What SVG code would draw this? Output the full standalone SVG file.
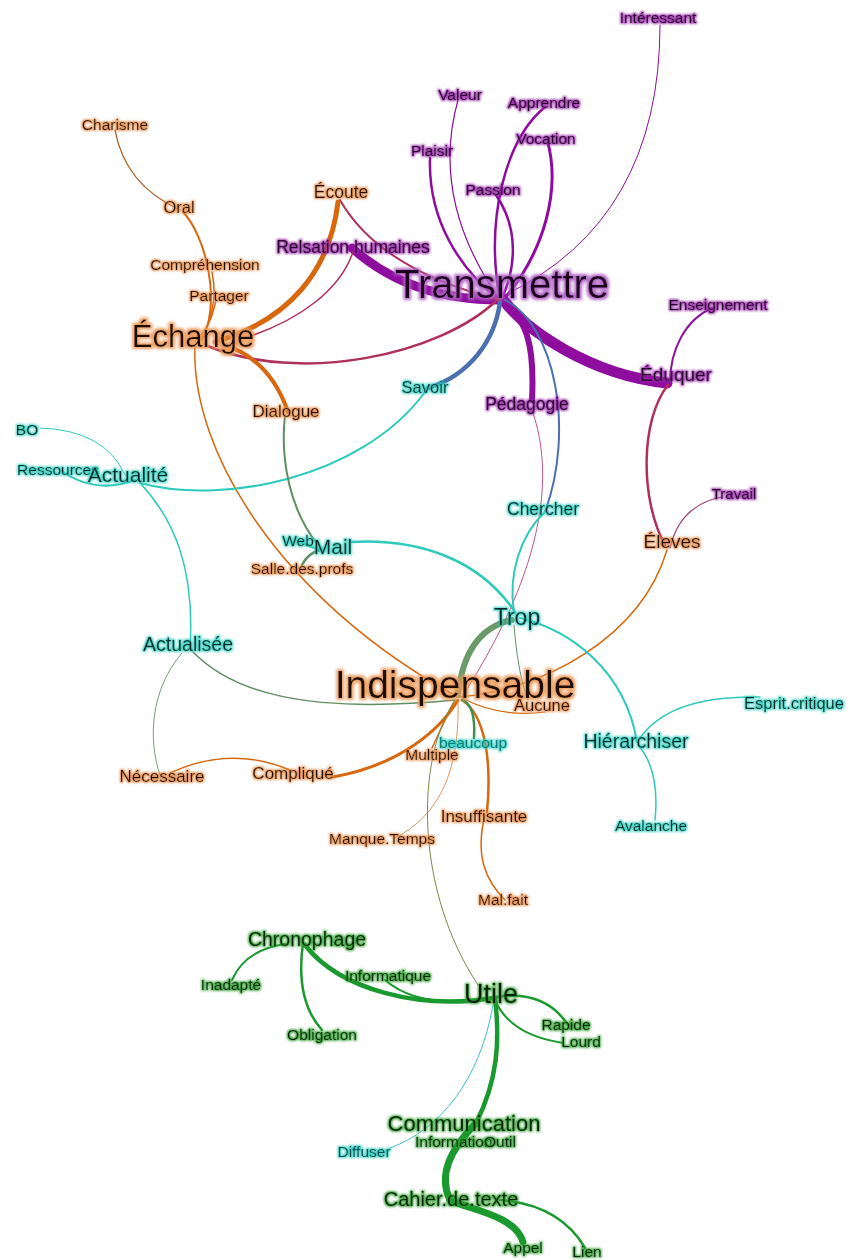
<svg xmlns="http://www.w3.org/2000/svg" width="850" height="1260" viewBox="0 0 850 1260">
<defs>
<filter id="hp" x="-20%" y="-50%" width="140%" height="200%"><feMorphology in="SourceAlpha" operator="dilate" radius="1.4" result="d"/><feGaussianBlur in="d" stdDeviation="1.1" result="b"/><feFlood flood-color="#9424a4" flood-opacity="0.9"/><feComposite in2="b" operator="in" result="h"/><feMerge><feMergeNode in="h"/><feMergeNode in="SourceGraphic"/></feMerge></filter>
<filter id="hpl" x="-20%" y="-50%" width="140%" height="200%"><feMorphology in="SourceAlpha" operator="dilate" radius="2" result="d"/><feGaussianBlur in="d" stdDeviation="1.4" result="b"/><feFlood flood-color="#b060c4" flood-opacity="0.95"/><feComposite in2="b" operator="in" result="h"/><feMerge><feMergeNode in="h"/><feMergeNode in="SourceGraphic"/></feMerge></filter>
<filter id="ho" x="-20%" y="-50%" width="140%" height="200%"><feMorphology in="SourceAlpha" operator="dilate" radius="1.4" result="d"/><feGaussianBlur in="d" stdDeviation="1.1" result="b"/><feFlood flood-color="#e48a45" flood-opacity="0.9"/><feComposite in2="b" operator="in" result="h"/><feMerge><feMergeNode in="h"/><feMergeNode in="SourceGraphic"/></feMerge></filter>
<filter id="hol" x="-20%" y="-50%" width="140%" height="200%"><feMorphology in="SourceAlpha" operator="dilate" radius="2" result="d"/><feGaussianBlur in="d" stdDeviation="1.4" result="b"/><feFlood flood-color="#ec9a58" flood-opacity="0.95"/><feComposite in2="b" operator="in" result="h"/><feMerge><feMergeNode in="h"/><feMergeNode in="SourceGraphic"/></feMerge></filter>
<filter id="ht" x="-20%" y="-50%" width="140%" height="200%"><feMorphology in="SourceAlpha" operator="dilate" radius="1.4" result="d"/><feGaussianBlur in="d" stdDeviation="1.1" result="b"/><feFlood flood-color="#2ccfbf" flood-opacity="0.9"/><feComposite in2="b" operator="in" result="h"/><feMerge><feMergeNode in="h"/><feMergeNode in="SourceGraphic"/></feMerge></filter>
<filter id="hg" x="-20%" y="-50%" width="140%" height="200%"><feMorphology in="SourceAlpha" operator="dilate" radius="1.4" result="d"/><feGaussianBlur in="d" stdDeviation="1.1" result="b"/><feFlood flood-color="#2c9c2c" flood-opacity="0.9"/><feComposite in2="b" operator="in" result="h"/><feMerge><feMergeNode in="h"/><feMergeNode in="SourceGraphic"/></feMerge></filter>
</defs>
<style>
.e{fill:none;stroke-linecap:round}
.pu{stroke:#8e0c9e}
.cr{stroke:#b03058}
.bl{stroke:#4a70b0}
.or{stroke:#d9670c}
.te{stroke:#2ccabb}
.gg{stroke:#5f9062}
.gr{stroke:#1a9a2e}
text{font-family:"Liberation Sans",Arial,Helvetica,sans-serif;text-anchor:middle;font-size:15.5px}
.tp{fill:#220428;filter:url(#hp)}
.to{fill:#221003;filter:url(#ho)}
.tt{fill:#042626;filter:url(#ht)}
.tg{fill:#042204;filter:url(#hg)}
</style>
<rect width="850" height="1260" fill="#ffffff"/>
<g id="edges">
<path class="e pu" stroke-width="1" d="M505,295 Q660,220 660,25"/>
<path class="e pu" stroke-width="1.2" d="M500,300 Q430,200 458,100"/>
<path class="e pu" stroke-width="2.5" d="M430,158 C428,220 460,270 500,300"/>
<path class="e pu" stroke-width="2.5" d="M545,107 C505,140 485,220 500,300"/>
<path class="e pu" stroke-width="3" d="M548,143 C560,190 545,250 505,298"/>
<path class="e pu" stroke-width="2.5" d="M496,195 C520,230 515,270 502,298"/>
<path class="e pu" stroke-width="9" d="M352,248 Q410,300 500,300"/>
<path class="e pu" stroke-width="11" d="M502,298 C525,330 590,375 667,383"/>
<path class="e pu" stroke-width="6" d="M503,300 C525,320 535,340 532,400"/>
<path class="e bl" stroke-width="4.5" d="M500,302 C495,340 470,375 428,388"/>
<path class="e bl" stroke-width="2" d="M505,300 C555,325 575,430 545,512"/>
<path class="e cr" stroke-width="2.5" d="M497,300 C440,355 300,385 205,345"/>
<path class="e cr" stroke-width="2" d="M340,200 Q380,270 500,300"/>
<path class="e cr" stroke-width="1.5" d="M353,252 C340,290 300,320 245,338"/>
<path class="e pu" stroke-width="2" d="M670,383 C670,350 685,320 712,308"/>
<path class="e cr" stroke-width="2.5" d="M668,385 C640,420 640,500 665,545"/>
<path class="e" stroke="#a04070" stroke-width="1.2" d="M670,548 Q680,505 722,497"/>
<path class="e" stroke="#c05585" stroke-width="1" d="M533,413 C552,470 550,560 462,697"/>
<path class="e" stroke="#b05a20" stroke-width="1.3" d="M115,130 Q125,185 180,210"/>
<path class="e or" stroke-width="2" d="M183,212 C205,235 222,300 202,340"/>
<path class="e or" stroke-width="1.5" d="M212,272 C218,300 210,325 200,340"/>
<path class="e or" stroke-width="1.5" d="M216,300 C212,320 206,332 196,340"/>
<path class="e or" stroke-width="5" d="M338,202 C330,270 290,320 215,342"/>
<path class="e or" stroke-width="4" d="M225,345 Q270,360 288,412"/>
<path class="e or" stroke-width="1.5" d="M195,345 C190,450 280,600 458,697"/>
<path class="e or" stroke-width="1.5" d="M460,697 C540,690 640,640 667,550"/>
<path class="e or" stroke-width="1.2" d="M462,698 Q500,718 545,712"/>
<path class="e or" stroke-width="3" d="M458,700 C440,730 400,765 333,777"/>
<path class="e or" stroke-width="1.5" d="M455,700 C445,720 438,735 432,748"/>
<path class="e or" stroke-width="1.5" d="M290,770 Q230,745 170,773"/>
<path class="e or" stroke-width="2.5" d="M462,700 C485,715 492,760 487,812"/>
<path class="e or" stroke-width="1.5" d="M485,815 C475,855 485,880 505,900"/>
<path class="e" stroke="#d88a50" stroke-width="0.9" d="M458,700 C460,770 440,815 395,838"/>
<path class="e gg" stroke-width="1.5" d="M193,652 C230,690 300,715 455,700"/>
<path class="e" stroke="#7a9a7a" stroke-width="1" d="M182,653 C150,690 148,740 160,775"/>
<path class="e te" stroke-width="1.5" d="M140,483 C175,520 195,570 190,648"/>
<path class="e te" stroke-width="1" d="M40,428 Q105,430 125,475"/>
<path class="e te" stroke-width="2" d="M60,470 Q95,495 135,480"/>
<path class="e te" stroke-width="2" d="M140,483 C220,505 360,480 425,392"/>
<path class="e gg" stroke-width="2" d="M285,415 C280,460 290,510 318,545"/>
<path class="e te" stroke-width="2.5" d="M302,543 Q312,548 320,549"/>
<path class="e gg" stroke-width="2.5" d="M320,550 Q308,553 302,565"/>
<path class="e te" stroke-width="2.5" d="M350,542 C420,538 480,560 515,612"/>
<path class="e te" stroke-width="2" d="M545,512 C520,535 508,575 514,612"/>
<path class="e" stroke="#6a9a6a" stroke-width="6" d="M512,620 Q465,630 458,695"/>
<path class="e gg" stroke-width="1" d="M514,625 C516,650 520,680 528,700"/>
<path class="e te" stroke-width="2" d="M520,618 C570,630 625,670 637,742"/>
<path class="e te" stroke-width="1.5" d="M640,738 Q670,695 760,697"/>
<path class="e te" stroke-width="1.5" d="M638,745 Q660,770 655,820"/>
<path class="e" stroke="#3f8f55" stroke-width="2.5" d="M462,700 Q476,705 474,738"/>
<path class="e" stroke="#7a8a4a" stroke-width="1" d="M455,700 C415,760 415,890 478,985"/>
<path class="e" stroke="#40c0c0" stroke-width="1" d="M493,1005 C480,1080 440,1130 390,1148"/>
<path class="e gr" stroke-width="2" d="M285,944 Q245,950 232,980"/>
<path class="e gr" stroke-width="2.5" d="M303,943 Q295,1000 322,1030"/>
<path class="e gr" stroke-width="4.5" d="M305,945 C340,990 420,1010 493,998"/>
<path class="e gr" stroke-width="2" d="M385,980 Q420,1010 490,998"/>
<path class="e gr" stroke-width="2.5" d="M497,997 Q545,990 568,1025"/>
<path class="e gr" stroke-width="2" d="M495,1000 Q510,1035 563,1043"/>
<path class="e gr" stroke-width="4.5" d="M495,998 C500,1040 498,1080 476,1123"/>
<path class="e gr" stroke-width="7" d="M476,1123 C450,1150 438,1175 450,1200"/>
<path class="e gr" stroke-width="7" d="M450,1200 C470,1210 515,1215 523,1242"/>
<path class="e gr" stroke-width="2.5" d="M500,1200 Q560,1205 585,1248"/>
</g>
<g id="n-interessant"><text class="tp" x="658" y="23">Intéressant</text></g>
<g id="n-valeur"><text class="tp" x="460" y="100">Valeur</text></g>
<g id="n-apprendre"><text class="tp" x="544" y="108">Apprendre</text></g>
<g id="n-vocation"><text class="tp" x="546" y="144">Vocation</text></g>
<g id="n-plaisir"><text class="tp" x="432" y="156">Plaisir</text></g>
<g id="n-passion"><text class="tp" x="493" y="195">Passion</text></g>
<g id="n-relsation"><text class="tp" x="353" y="253" style="font-size:17.5px">Relsation humaines</text></g>
<g id="n-transmettre"><text x="502" y="298" style="font-size:40px;fill:#1a001a;filter:url(#hpl)">Transmettre</text></g>
<g id="n-enseignement"><text class="tp" x="718" y="310">Enseignement</text></g>
<g id="n-eduquer"><text class="tp" x="676" y="381" style="font-size:19px">Éduquer</text></g>
<g id="n-pedagogie"><text class="tp" x="527" y="410" style="font-size:17.5px">Pédagogie</text></g>
<g id="n-travail"><text class="tp" x="734" y="499" style="font-size:15px">Travail</text></g>
<g id="n-charisme"><text class="to" x="115" y="130">Charisme</text></g>
<g id="n-oral"><text class="to" x="179" y="213" style="font-size:16.5px">Oral</text></g>
<g id="n-ecoute"><text class="to" x="341" y="198" style="font-size:17.5px">Écoute</text></g>
<g id="n-comprehension"><text class="to" x="205" y="270">Compréhension</text></g>
<g id="n-partager"><text class="to" x="219" y="301">Partager</text></g>
<g id="n-echange"><text x="193" y="347" style="font-size:31px;fill:#1a0a00;filter:url(#hol)">Échange</text></g>
<g id="n-dialogue"><text class="to" x="286" y="417" style="font-size:17px">Dialogue</text></g>
<g id="n-eleves"><text class="to" x="672" y="548" style="font-size:19px">Éleves</text></g>
<g id="n-salle"><text class="to" x="302" y="574">Salle.des.profs</text></g>
<g id="n-indispensable"><text x="455" y="698" style="font-size:39px;fill:#1a0a00;filter:url(#hol)">Indispensable</text></g>
<g id="n-aucune"><text class="to" x="542" y="711" style="font-size:16.5px">Aucune</text></g>
<g id="n-multiple"><text class="to" x="432" y="760">Multiple</text></g>
<g id="n-complique"><text class="to" x="293" y="779" style="font-size:17px">Compliqué</text></g>
<g id="n-necessaire"><text class="to" x="162" y="782" style="font-size:17px">Nécessaire</text></g>
<g id="n-insuffisante"><text class="to" x="484" y="822" style="font-size:17px">Insuffisante</text></g>
<g id="n-manque"><text class="to" x="382" y="844">Manque.Temps</text></g>
<g id="n-malfait"><text class="to" x="503" y="905">Mal.fait</text></g>
<g id="n-bo"><text class="tt" x="27" y="435">BO</text></g>
<g id="n-ressources"><text class="tt" x="58" y="475">Ressources</text></g>
<g id="n-actualite"><text class="tt" x="128" y="482" style="font-size:21px">Actualité</text></g>
<g id="n-savoir"><text class="tt" x="425" y="393" style="font-size:16.5px">Savoir</text></g>
<g id="n-chercher"><text class="tt" x="543" y="515" style="font-size:17.5px">Chercher</text></g>
<g id="n-web"><text class="tt" x="298" y="546">Web</text></g>
<g id="n-mail"><text class="tt" x="333" y="554" style="font-size:21px">Mail</text></g>
<g id="n-trop"><text class="tt" x="517" y="625" style="font-size:23px">Trop</text></g>
<g id="n-actualisee"><text class="tt" x="188" y="651" style="font-size:19.5px">Actualisée</text></g>
<g id="n-hierarchiser"><text class="tt" x="636" y="748" style="font-size:19.5px">Hiérarchiser</text></g>
<g id="n-esprit"><text class="tt" x="794" y="709" style="font-size:16.5px">Esprit.critique</text></g>
<g id="n-avalanche"><text class="tt" x="651" y="831">Avalanche</text></g>
<g id="n-beaucoup"><text class="tt" x="473" y="748" style="fill:#0a7a7a">beaucoup</text></g>
<g id="n-diffuser"><text class="tt" x="364" y="1157" style="fill:#0a4a50">Diffuser</text></g>
<g id="n-chronophage"><text class="tg" x="307" y="946" style="font-size:19.5px">Chronophage</text></g>
<g id="n-informatique"><text class="tg" x="388" y="981">Informatique</text></g>
<g id="n-inadapte"><text class="tg" x="231" y="990">Inadapté</text></g>
<g id="n-utile"><text class="tg" x="491" y="1003" style="font-size:27px;fill:#031a03">Utile</text></g>
<g id="n-rapide"><text class="tg" x="566" y="1030">Rapide</text></g>
<g id="n-lourd"><text class="tg" x="581" y="1047">Lourd</text></g>
<g id="n-obligation"><text class="tg" x="322" y="1040">Obligation</text></g>
<g id="n-communication"><text class="tg" x="464" y="1131" style="font-size:22px">Communication</text></g>
<g id="n-information"><text class="tg" x="415" y="1147" style="text-anchor:start">Information</text></g>
<g id="n-outil"><text class="tg" x="484" y="1147" style="text-anchor:start">Outil</text></g>
<g id="n-cahier"><text class="tg" x="451" y="1206" style="font-size:20px">Cahier.de.texte</text></g>
<g id="n-appel"><text class="tg" x="523" y="1253">Appel</text></g>
<g id="n-lien"><text class="tg" x="587" y="1257">Lien</text></g>
</svg>
